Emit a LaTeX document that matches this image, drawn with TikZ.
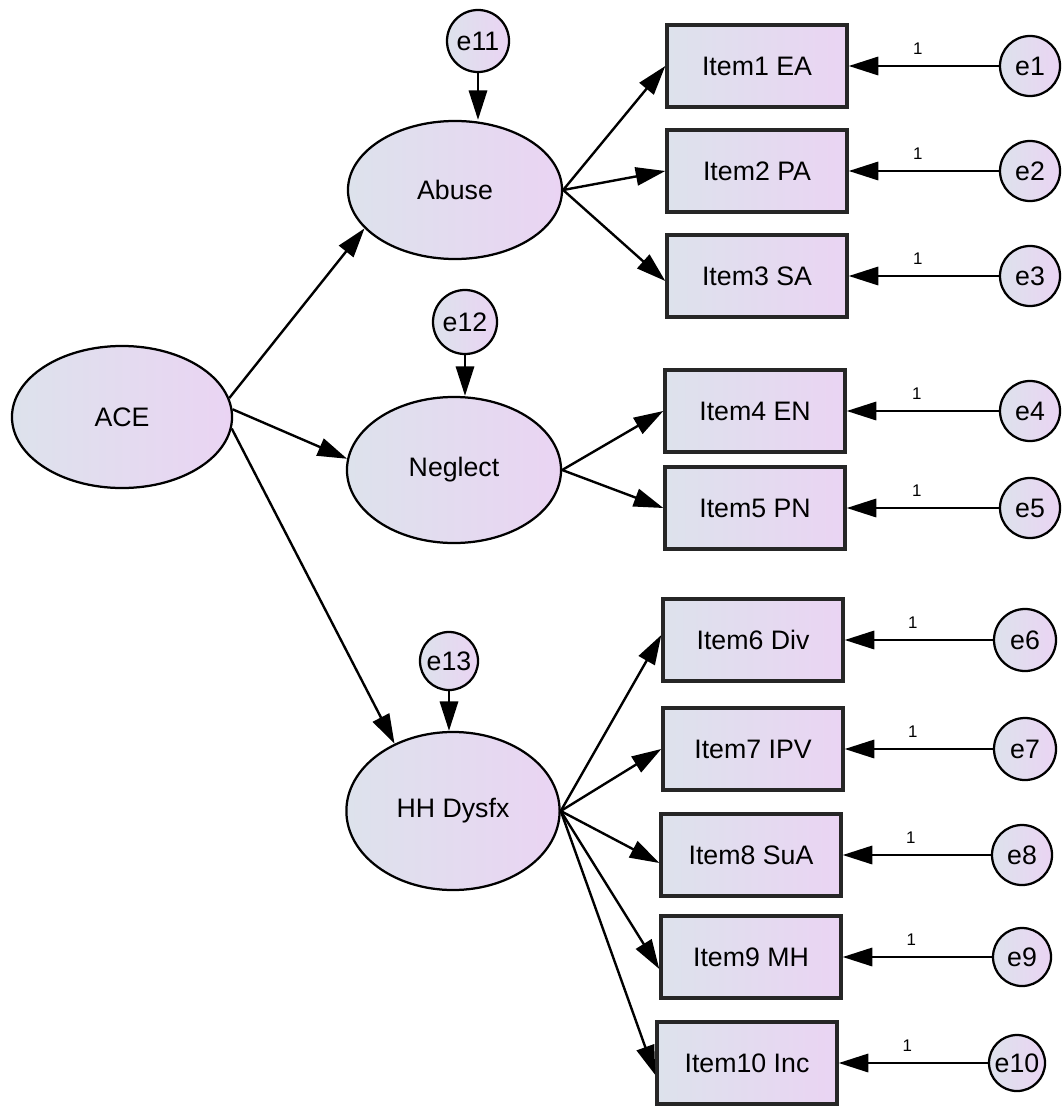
\documentclass[tikz,border=0pt]{standalone}
\usepackage{fontspec}
\setmainfont{Liberation Sans}
\usetikzlibrary{arrows.meta,shapes.geometric}

\definecolor{fillleft}{RGB}{221,226,236}
\definecolor{fillright}{RGB}{234,212,243}

\begin{document}
\begin{tikzpicture}[x=0.025cm,y=-0.025cm,
    latent/.style={ellipse,draw,line width=1.6pt,left color=fillleft,right color=fillright,
      inner sep=0pt,font=\fontsize{19}{22}\selectfont},
    item/.style={rectangle,draw=black!85,line width=2.4pt,left color=fillleft,right color=fillright,
      minimum width=4.5cm,minimum height=2.05cm,inner sep=0pt,font=\fontsize{19}{22}\selectfont},
    err/.style={circle,draw,line width=1.6pt,left color=fillleft,right color=fillright,
      inner sep=0pt,font=\fontsize{19}{22}\selectfont},
    load/.style={line width=1.7pt,-{Triangle[length=21pt,width=13pt]}},
    fixed/.style={font=\fontsize{12}{13}\selectfont,above=4pt}]
  \useasboundingbox (0,0) rectangle (1062,1109);

  % latent factors
  \node[latent,minimum width=5.5cm,minimum height=3.55cm] (ace) at (122,417) {ACE};
  \node[latent,minimum width=5.35cm,minimum height=3.45cm] (abuse) at (455,190) {Abuse};
  \node[latent,minimum width=5.35cm,minimum height=3.65cm] (neglect) at (454,470) {Neglect};
  \node[latent,minimum width=5.33cm,minimum height=3.95cm] (hh) at (453,811) {HH Dysfx};

  % disturbances
  \node[err,minimum size=1.55cm] (e11) at (478,41) {e11};
  \node[err,minimum size=1.6cm] (e12) at (465,322) {e12};
  \node[err,minimum size=1.45cm] (e13) at (449,661) {e13};
  \draw[load] (e11) -- (e11 |- abuse.north);
  \draw[load] (e12) -- (e12 |- neglect.north);
  \draw[load] (e13) -- (e13 |- hh.north);

  % second-order paths
  \draw[load] (ace.10) -- (abuse.203);
  \draw[load] (ace.4) -- (neglect.174);
  \draw[load] (ace.-6) -- (hh.131);

  % indicators with their error terms
  \foreach \n/\lab/\x/\y/\ex/\es in {1/Item1 EA/757/66/1030/1.5,
      2/Item2 PA/757/171/1030/1.5, 3/Item3 SA/757/276/1030/1.5,
      4/Item4 EN/755/411/1030/1.5, 5/Item5 PN/755/508/1030/1.5,
      6/Item6 Div/753/640/1025/1.55, 7/Item7 IPV/753/749/1025/1.55,
      8/Item8 SuA/751/855/1022/1.5, 9/Item9 MH/751/957/1022/1.45,
      10/Item10 Inc/747/1063/1017/1.4} {
    \node[item] (i\n) at (\x,\y) {\lab};
    \node[err,minimum size=\es cm] (e\n) at (\ex,\y) {e\n};
    \draw[load] (e\n) -- (i\n) node[pos=0.54,fixed] {1};
  }

  % factor loadings (dy = where the tip meets the box edge)
  \foreach \f/\i/\dy in {abuse/1/0,abuse/2/0,abuse/3/-5,neglect/4/0,neglect/5/0,
      hh/6/5,hh/7/0,hh/8/-8,hh/9/-12,hh/10/-12}
    \draw[load] (\f.east) -- ([yshift=\dy*0.025cm]i\i.west);
\end{tikzpicture}
\end{document}
